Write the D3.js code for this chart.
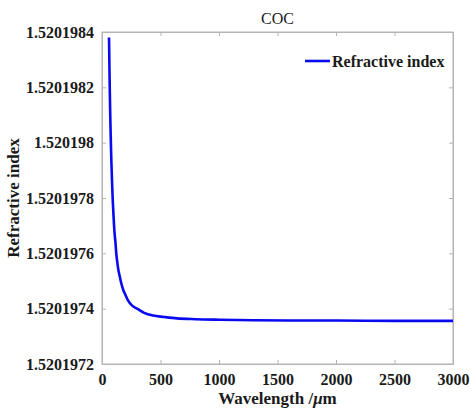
<!DOCTYPE html>
<html><head><meta charset="utf-8">
<script src="https://cdn.jsdelivr.net/npm/d3@7"></script>
<style>body{margin:0;background:#fff}svg{display:block}</style>
</head><body>
<script>
const wavelength = [60, 62, 65, 67, 70, 73, 77, 81, 85, 90, 97, 103, 110, 115, 122, 130, 140, 150, 160, 180, 200, 222, 260, 300, 360, 436, 530, 641, 800, 1009, 1300, 1600, 2000, 2500, 3000];
const refractiveIndex = [1.52019838, 1.52019832, 1.52019823, 1.52019818, 1.52019811, 1.52019805, 1.52019798, 1.52019792, 1.52019787, 1.52019781, 1.52019775, 1.52019770, 1.52019766, 1.52019764, 1.52019760, 1.52019757, 1.52019754, 1.52019752, 1.52019750, 1.52019747, 1.52019745, 1.52019743, 1.52019741, 1.52019740, 1.520197385, 1.520197375, 1.52019737, 1.520197365, 1.520197362, 1.52019736, 1.520197358, 1.520197357, 1.520197357, 1.520197356, 1.520197356];
const xTicks = [0, 500, 1000, 1500, 2000, 2500, 3000];
const yTicks = [1.5201972, 1.5201974, 1.5201976, 1.5201978, 1.520198, 1.5201982, 1.5201984];
const yTickLabels = ["1.5201972", "1.5201974", "1.5201976", "1.5201978", "1.520198", "1.5201982", "1.5201984"];

const W = 470, H = 409;
const m = {l: 102, r: 453, t: 32, b: 364};
const svg = d3.select("body").append("svg").attr("width", W).attr("height", H);
const x = d3.scaleLinear().domain([0, 3000]).range([m.l, m.r]);
const y = d3.scaleLinear().domain([1.5201972, 1.5201984]).range([m.b, m.t]);
const font = "Liberation Serif";
const frame = "#b4b4b4";

svg.append("rect").attr("x", m.l).attr("y", m.t).attr("width", m.r - m.l).attr("height", m.b - m.t)
  .attr("fill", "none").attr("stroke", frame).attr("stroke-width", 1);

const tl = 4;
const gBottom = svg.append("g").attr("transform", `translate(0,${m.b})`)
  .call(d3.axisBottom(x).tickValues(xTicks).tickSize(-tl).tickPadding(10).tickFormat(d3.format("d")));
const gTop = svg.append("g").attr("transform", `translate(0,${m.t})`)
  .call(d3.axisTop(x).tickValues(xTicks).tickSize(-tl).tickFormat(""));
const gLeft = svg.append("g").attr("transform", `translate(${m.l},0)`)
  .call(d3.axisLeft(y).tickValues(yTicks).tickSize(-tl).tickPadding(8).tickFormat((d, i) => yTickLabels[i]));
const gRight = svg.append("g").attr("transform", `translate(${m.r},0)`)
  .call(d3.axisRight(y).tickValues(yTicks).tickSize(-tl).tickFormat(""));

[gBottom, gTop, gLeft, gRight].forEach(g => {
  g.attr("font-family", font).attr("font-size", 16).attr("font-weight", "bold");
  g.select(".domain").attr("stroke", frame);
  g.selectAll(".tick line").attr("stroke", frame);
  g.selectAll(".tick text").attr("fill", "#1a1a1a");
});

const line = d3.line().x((d, i) => x(wavelength[i])).y(d => y(d)).curve(d3.curveMonotoneX);
svg.append("path").datum(refractiveIndex).attr("d", line)
  .attr("fill", "none").attr("stroke", "#0a0af0").attr("stroke-width", 2.6);

svg.append("text").attr("x", (m.l + m.r) / 2).attr("y", 24).attr("text-anchor", "middle")
  .attr("font-family", font).attr("font-size", 16).attr("fill", "#1a1a1a").text("COC");

const xl = svg.append("text").attr("x", (m.l + m.r) / 2).attr("y", 404).attr("text-anchor", "middle")
  .attr("font-family", font).attr("font-weight", "bold").attr("font-size", 17).attr("fill", "#1a1a1a");
xl.append("tspan").text("Wavelength /");
xl.append("tspan").attr("font-style", "italic").text("μ");
xl.append("tspan").text("m");

svg.append("text").attr("transform", `translate(19,${(m.t + m.b) / 2}) rotate(-90)`).attr("text-anchor", "middle")
  .attr("font-family", font).attr("font-weight", "bold").attr("font-size", 17).attr("fill", "#1a1a1a")
  .text("Refractive index");

svg.append("line").attr("x1", 305).attr("x2", 330).attr("y1", 61).attr("y2", 61)
  .attr("stroke", "#0a0af0").attr("stroke-width", 2.6);
svg.append("text").attr("x", 332).attr("y", 66.5).attr("font-family", font).attr("font-weight", "bold")
  .attr("font-size", 16).attr("fill", "#1a1a1a").text("Refractive index");
</script>
</body></html>
